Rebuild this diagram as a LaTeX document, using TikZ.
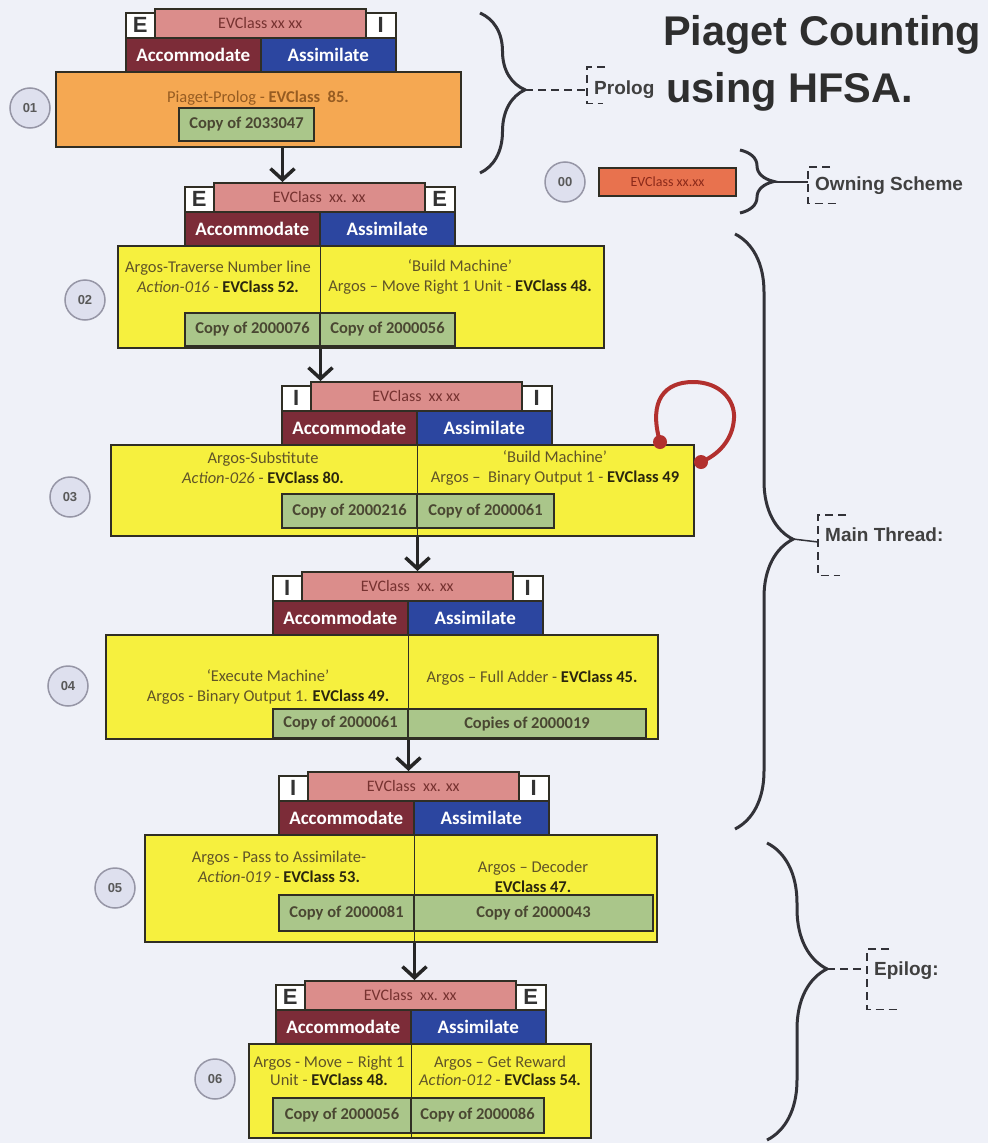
\documentclass[tikz,border=0pt]{standalone}
\usepackage{fontspec}
\setmainfont{Carlito}
\newfontfamily\labelfont{Liberation Sans}
\usetikzlibrary{arrows.meta,decorations.pathreplacing}

\definecolor{paper}{RGB}{239,241,248}
\definecolor{edge}{RGB}{48,46,36}
\definecolor{evpink}{RGB}{219,141,139}
\definecolor{evpinktext}{RGB}{118,50,48}
\definecolor{accred}{RGB}{124,44,56}
\definecolor{assblue}{RGB}{44,70,160}
\definecolor{prologorange}{RGB}{245,168,82}
\definecolor{prologtext}{RGB}{150,92,34}
\definecolor{bodyyellow}{RGB}{246,240,62}
\definecolor{copygreen}{RGB}{170,198,138}
\definecolor{bodytext}{RGB}{96,84,40}
\definecolor{boldtext}{RGB}{42,38,14}
\definecolor{stagefill}{RGB}{222,224,238}
\definecolor{stageedge}{RGB}{150,150,166}
\definecolor{ownred}{RGB}{232,114,78}
\definecolor{owntext}{RGB}{140,42,26}
\definecolor{loopred}{RGB}{178,48,46}
\definecolor{bracegray}{RGB}{50,50,56}

\newcommand{\evc}[1]{\textbf{\textcolor{boldtext}{EVClass #1}}}

\tikzset{
  tag/.style={draw=edge, fill=white, line width=1.5pt, anchor=north west, inner sep=0pt,
    font=\labelfont\bfseries\fontsize{22}{22}\selectfont, text=black!80},
  evclass/.style={draw=edge, fill=evpink, line width=1.5pt, anchor=north west, inner sep=0pt,
    font=\fontsize{16}{16}\selectfont, text=evpinktext},
  accommodate/.style={draw=edge, fill=accred, line width=1.5pt, anchor=north west, inner sep=0pt,
    font=\bfseries\fontsize{19}{19}\selectfont, text=white},
  assimilate/.style={accommodate, fill=assblue},
  body/.style={draw=edge, fill=bodyyellow, line width=2pt, anchor=north west, inner sep=0pt},
  prolog body/.style={body, fill=prologorange},
  copy/.style={draw=edge, fill=copygreen, line width=2pt, anchor=north west, inner sep=0pt,
    font=\bfseries\fontsize{16.5}{16.5}\selectfont, text=boldtext!85},
  action/.style={font=\fontsize{16.5}{20}\selectfont, text=bodytext, align=center},
  prolog text/.style={font=\fontsize{16.5}{20}\selectfont, text=prologtext},
  divider/.style={draw=edge, line width=1.5pt},
  stage/.style={circle, draw=stageedge, fill=stagefill, line width=1.5pt, minimum size=40pt,
    inner sep=0pt, font=\labelfont\bfseries\fontsize{13}{13}\selectfont, text=black!65},
  owning/.style={draw=edge, fill=ownred, line width=2pt, anchor=north west, inner sep=0pt,
    font=\fontsize{14}{14}\selectfont, text=owntext},
  flow/.style={draw=black!85, line width=3.5pt, -{Straight Barb[length=11pt,width=24pt]}},
  scheme brace/.style args={#1/#2}{draw=bracegray, line width=3pt, decorate,
    decoration={brace, amplitude=#1, aspect=#2}},
  callout/.style={draw=bracegray, line width=1.5pt, dash pattern=on 8pt off 5pt},
  callout link/.style={draw=bracegray, line width=1.5pt},
  callout label/.style={anchor=north west, inner xsep=7pt, inner ysep=0pt,
    font=\labelfont\bfseries\fontsize{19}{19}\selectfont, text=black!75},
  title/.style={anchor=base west, inner sep=0pt,
    font=\labelfont\bfseries\fontsize{41.5}{41.5}\selectfont, text=black!82},
  self loop/.style={draw=loopred, line width=4pt},
  loop end/.style={circle, fill=loopred, inner sep=0pt, minimum size=14pt}
}
\tikzset{
  pics/hfsahead/.style args={#1/#2/#3/#4}{
    code = {
      \node[tag, minimum width=29pt, minimum height=25pt] at (0,4) (#1 left) {#2};
      \node[evclass, minimum width=211pt, minimum height=29pt] at (29,0) (#1 ev) {#4};
      \node[tag, minimum width=30pt, minimum height=25pt] at (240,4) (#1 right) {#3};
      \node[accommodate, minimum width=135pt, minimum height=34pt] at (0,29) (#1 acc) {Accommodate};
      \node[assimilate, minimum width=135pt, minimum height=34pt] at (135,29) (#1 ass) {Assimilate};
    }
  }
}

\begin{document}
\begin{tikzpicture}[x=1pt, y=-1pt]
  \path[use as bounding box, fill=paper] (0,0) rectangle (988,1143);

  \node[title] (title top) at (663,45) {Piaget Counting};
  \node[title] (title bottom) at (666,102) {using HFSA.};

  % 01 prolog
  \pic at (125,8) {hfsahead=h1/E/I/EVClass xx xx};
  \node[prolog body, minimum width=405pt, minimum height=75pt] (b1) at (55,71) {};
  \node[prolog text] (b1 text) at (258,98) {Piaget-Prolog - \textbf{EVClass\ \ 85.}};
  \node[copy, minimum width=135pt, minimum height=33pt] (b1 copy) at (178,107) {Copy of 2033047};
  \node[stage] (s1) at (30,108) {01};

  % 02
  \pic at (184,182) {hfsahead=h2/E/E/EVClass\ \ xx. xx};
  \node[body, minimum width=486pt, minimum height=102pt] (b2) at (117,245) {};
  \node[action] (b2 acc text) at (218,277) {Argos-Traverse Number line\\\textit{Action-016} - \evc{52.}};
  \node[action] (b2 ass text) at (460,277) {‘Build Machine’\\Argos – Move Right 1 Unit - \evc{48.}};
  \node[copy, minimum width=135pt, minimum height=33pt] (b2 copy acc) at (184,312) {Copy of 2000076};
  \node[copy, minimum width=135pt, minimum height=33pt] (b2 copy ass) at (319,312) {Copy of 2000056};
  \draw[divider] (h2 acc.south east) -- (h2 acc.south east |- b2.south);
  \node[stage] (s2) at (85,300) {02};

  % 03
  \pic at (281,381) {hfsahead=h3/I/I/EVClass\ \ xx xx};
  \node[body, minimum width=583pt, minimum height=91pt] (b3) at (110,444) {};
  \node[action] (b3 acc text) at (263,468) {Argos-Substitute\\\textit{Action-026} - \evc{80.}};
  \node[action] (b3 ass text) at (555,468) {‘Build Machine’\\Argos –\ \ Binary Output 1 - \evc{49}};
  \node[copy, minimum width=135pt, minimum height=34pt] (b3 copy acc) at (281,493) {Copy of 2000216};
  \node[copy, minimum width=137pt, minimum height=34pt] (b3 copy ass) at (416,493) {Copy of 2000061};
  \draw[divider] (h3 acc.south east) -- (h3 acc.south east |- b3.south);
  \node[stage] (s3) at (70,497) {03};

  % 03 repeats itself
  \coordinate (loop out) at (660,442);
  \coordinate (loop in) at (701,462);
  \draw[self loop] (loop out) .. controls (648,400) and (665,382) .. (693,382)
    .. controls (720,382) and (735,400) .. (734,418)
    .. controls (733,440) and (718,455) .. (loop in);
  \node[loop end] (loop dot out) at (loop out) {};
  \node[loop end] (loop dot in) at (loop in) {};

  % 04
  \pic at (272,571) {hfsahead=h4/I/I/EVClass\ \ xx. xx};
  \node[body, minimum width=552pt, minimum height=104pt] (b4) at (105,634) {};
  \node[action] (b4 acc text) at (268,687) {‘Execute Machine’\\Argos - Binary Output 1. \evc{49.}};
  \node[action] (b4 ass text) at (532,678) {Argos – Full Adder - \evc{45.}};
  \node[copy, minimum width=135pt, minimum height=29pt] (b4 copy acc) at (272,708) {Copy of 2000061};
  \node[copy, minimum width=238pt, minimum height=29pt] (b4 copy ass) at (407,708) {Copies of 2000019};
  \draw[divider] (h4 acc.south east) -- (h4 acc.south east |- b4.south);
  \node[stage] (s4) at (68,686) {04};

  % 05
  \pic at (278,771) {hfsahead=h5/I/I/EVClass\ \ xx. xx};
  \node[body, minimum width=512pt, minimum height=107pt] (b5) at (144,834) {};
  \node[action] (b5 acc text) at (279,867) {Argos - Pass to Assimilate-\\\textit{Action-019} - \evc{53.}};
  \node[action] (b5 ass text) at (533,877) {Argos – Decoder\\\evc{47.}};
  \node[copy, minimum width=135pt, minimum height=36pt] (b5 copy acc) at (278,894) {Copy of 2000081};
  \node[copy, minimum width=239pt, minimum height=36pt] (b5 copy ass) at (413,894) {Copy of 2000043};
  \draw[divider] (h5 acc.south east) -- (h5 acc.south east |- b5.south);
  \node[stage] (s5) at (115,888) {05};

  % 06
  \pic at (275,980) {hfsahead=h6/E/E/EVClass\ \ xx. xx};
  \node[body, minimum width=342pt, minimum height=94pt] (b6) at (248,1043) {};
  \node[action, font=\fontsize{16.5}{18}\selectfont] (b6 acc text) at (329,1071) {Argos - Move – Right 1\\Unit - \evc{48.}};
  \node[action, font=\fontsize{16.5}{18}\selectfont] (b6 ass text) at (500,1071) {Argos – Get Reward\\\textit{Action-012} - \evc{54.}};
  \node[copy, minimum width=138pt, minimum height=35pt] (b6 copy acc) at (272,1097) {Copy of 2000056};
  \node[copy, minimum width=133pt, minimum height=35pt] (b6 copy ass) at (410,1097) {Copy of 2000086};
  \draw[divider] (h6 acc.south east) -- (h6 acc.south east |- b6.south);
  \node[stage] (s6) at (215,1079) {06};

  % thread
  \draw[flow] ([xshift=24pt]b1.south) -- ([xshift=24pt]b1.south |- h2 ev.north);
  \draw[flow] (h2 acc.south east |- b2.south) -- (h2 acc.south east |- h3 ev.north);
  \draw[flow] (h3 acc.south east |- b3.south) -- (h3 acc.south east |- h4 ev.north);
  \draw[flow] (h4 acc.south east |- b4.south) -- (h4 acc.south east |- h5 ev.north);
  \draw[flow] (h5 acc.south east |- b5.south) -- (h5 acc.south east |- h6 ev.north);

  % owning scheme
  \node[stage] (s0) at (565,182) {00};
  \node[owning, minimum width=137pt, minimum height=28pt] (own) at (598,167) {EVClass xx.xx};

  % braces and their labels
  \draw[scheme brace=45pt/0.48] (480,13) -- (480,173);
  \coordinate (prolog tip) at (525,90);
  \node[callout label, minimum height=36pt, text height=22pt] (prolog) at (587,67) {Prolog};
  \draw[callout] (prolog tip) -- (prolog tip -| prolog.west);
  \draw[callout] ([xshift=18pt]prolog.north west) -- (prolog.north west) -- (prolog.south west) -- ([xshift=16pt]prolog.south west);

  \draw[scheme brace=34pt/0.5] (740,150) -- (740,213);
  \coordinate (owning tip) at (774,182);
  \node[callout label, minimum height=36pt] (owning label) at (808,167) {Owning Scheme};
  \draw[callout link] (owning tip) -- (owning tip -| owning label.west);
  \draw[callout] ([xshift=22pt]owning label.north west) -- (owning label.north west) -- (owning label.south west) -- ([xshift=28pt]owning label.south west);

  \draw[scheme brace=58pt/0.513] (735,234) -- (735,829);
  \coordinate (main tip) at (793,539);
  \node[callout label, minimum height=60pt, text depth=22pt] (main label) at (818,515) {Main Thread:};
  \draw[callout link] (main tip) -- ([yshift=-3pt]main tip -| main label.west);
  \draw[callout] ([xshift=28pt]main label.north west) -- (main label.north west) -- (main label.south west) -- ([xshift=22pt]main label.south west);

  \draw[scheme brace=60pt/0.424] (767,843) -- (767,1140);
  \coordinate (epilog tip) at (827,969);
  \node[callout label, minimum height=60pt, text depth=22pt] (epilog label) at (867,949) {Epilog:};
  \draw[callout] (epilog tip) -- (epilog tip -| epilog label.west);
  \draw[callout] ([xshift=22pt]epilog label.north west) -- (epilog label.north west) -- (epilog label.south west) -- ([xshift=30pt]epilog label.south west);
\end{tikzpicture}
\end{document}
